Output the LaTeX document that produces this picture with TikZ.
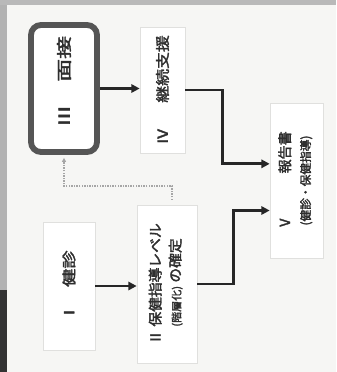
\documentclass[tikz,border=0pt]{standalone}
\usepackage{fontspec}
\setmainfont{Noto Sans CJK JP}[AutoFakeBold=2.2]
\usepackage{graphicx}
\usetikzlibrary{arrows.meta}
\definecolor{scanbg}{HTML}{F6F6F4}
\definecolor{boxline}{HTML}{E0E0DE}
\definecolor{inkgray}{HTML}{2E2E2E}
\definecolor{frameline}{HTML}{555555}
\newcommand{\vtext}[2]{\rotatebox{90}{\scalebox{#1}[1]{#2}}}

\begin{document}
\begin{tikzpicture}[x=0.03cm, y=-0.03cm,
    box/.style={draw=boxline, line width=0.6pt, fill=white, inner sep=0pt, font=\fontsize{12}{15}\selectfont\bfseries, text=inkgray},
    mainbox/.style={draw=frameline, line width=5pt, rounded corners=0.3cm, fill=white, inner sep=0pt, font=\fontsize{13}{16}\selectfont\bfseries, text=inkgray},
    flow/.style={-{Triangle[length=7pt,width=7pt]}, line width=2.3pt, draw=black!85},
    back/.style={-{Triangle[length=3.5pt,width=3.5pt]}, densely dotted, line width=1.2pt, draw=gray!70}]

        % Scan background and edges
        \fill[scanbg] (0,0) rectangle (336,372);
        \fill[gray!60] (0,0) rectangle (7,372);
        \fill[gray!55] (0,0) rectangle (336,5);
        \fill[black!80] (0,290) rectangle (7,372);
        \useasboundingbox (0,0) rectangle (336,372);

        % Steps
        \node[mainbox, minimum width=1.98cm, minimum height=3.81cm] (iii) at (64,88.5) {\vtext{1.5}{\hspace{0.6em}Ⅲ\hspace{1em}面接}};
        \node[box, minimum width=1.35cm, minimum height=3.78cm] (iv) at (162.5,90) {\vtext{1.2}{Ⅳ\hspace{1.5em}継続支援}};
        \node[box, minimum width=1.56cm, minimum height=3.84cm] (i) at (69,286) {\vtext{1.3}{Ⅰ\hspace{0.9em}健診}};
        \node[box, minimum width=1.8cm, minimum height=4.74cm] (ii) at (167,284)
            {\vtext{1.05}{\begin{tabular}{@{}c@{\ }l@{}}Ⅱ & 保健指導レベル\\[2pt] & {\small (階層化)} の確定\end{tabular}}};
        \node[box, minimum width=1.59cm, minimum height=4.65cm] (v) at (296.5,180.5)
            {\vtext{1}{\begin{tabular}{@{}c@{}}\makebox[84pt][s]{Ⅴ\hfill 報告書}\\[2pt] {\fontsize{10}{12}\selectfont (健診・保健指導)}\end{tabular}}};

        % Flow arrows
        \draw[flow] (iii.east) -- (iii.east -| iv.west);
        \draw[flow] (i.east) -- (i.east -| ii.west);
        \draw[flow] (iv.east) -- ++(37,0) |- ([yshift=0.5cm]v.west);
        \draw[flow] (ii.east) -- ++(36,0) |- ([yshift=-0.9cm]v.west);

        % Feedback to interview
        \coordinate (dotcorner) at ([yshift=-0.93cm]iii.south);
        \draw[back, shorten <=4pt, shorten >=2.5pt] ([xshift=0.15cm]ii.north) |- (dotcorner) -- (iii.south);
    \end{tikzpicture}
\end{document}
